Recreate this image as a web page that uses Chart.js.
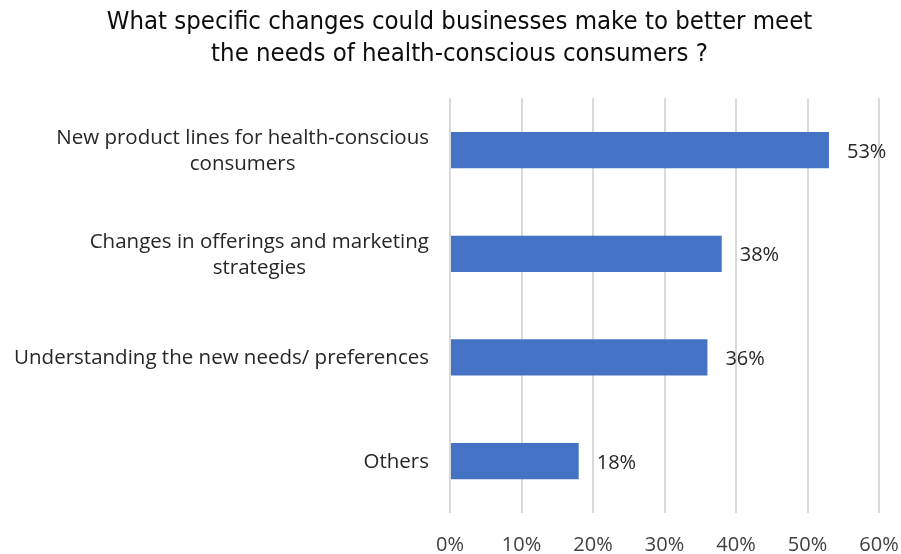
<!DOCTYPE html>
<html>
<head>
<meta charset="utf-8">
<title>Health-conscious consumers</title>
<script src="https://cdn.jsdelivr.net/npm/chart.js@4.4.1/dist/chart.umd.min.js"></script>
<style>
  html, body { margin: 0; padding: 0; background: #fff; }
  #wrap { width: 901px; height: 554px; }
</style>
</head>
<body>
<div id="wrap"><canvas id="changesChart"></canvas></div>
<script>
const categories = [
    ['New product lines for health-conscious', 'consumers'],
    ['Changes in offerings and marketing', 'strategies'],
    ['Understanding the new needs/ preferences'],
    ['Others']
];
const shares = [53, 38, 36, 18];
const tickValues = [0, 10, 20, 30, 40, 50, 60];

const labelFont = "'Open Sans', 'Noto Sans', sans-serif";

// category names: each block centred on itself, right edge just left of the bars
const categoryLabels = {
    id: 'categoryLabels',
    afterDraw(chart) {
        const ctx = chart.ctx;
        const yScale = chart.scales.y;
        const rightEdge = chart.chartArea.left - 21;
        const lineHeight = 26;
        ctx.save();
        ctx.font = '20.5px ' + labelFont;
        ctx.fillStyle = '#262626';
        ctx.textAlign = 'center';
        ctx.textBaseline = 'middle';
        categories.forEach(function(lines, i) {
            const widest = Math.max.apply(null, lines.map(l => ctx.measureText(l).width));
            const cx = rightEdge - widest / 2;
            const cy = yScale.getPixelForValue(i) + 1;
            const firstY = cy - (lines.length - 1) * lineHeight / 2;
            lines.forEach(function(line, j) {
                ctx.fillText(line, cx, firstY + j * lineHeight);
            });
        });
        ctx.restore();
    }
};

// writes "53%" etc. just past the end of each bar
const barValueLabels = {
    id: 'barValueLabels',
    afterDatasetsDraw(chart) {
        const ctx = chart.ctx;
        const meta = chart.getDatasetMeta(0);
        ctx.save();
        ctx.font = '20px ' + labelFont;
        ctx.fillStyle = '#262626';
        ctx.textAlign = 'left';
        ctx.textBaseline = 'middle';
        meta.data.forEach(function(bar, i) {
            ctx.fillText(shares[i] + '%', bar.x + 18, bar.y + 2);
        });
        ctx.restore();
    }
};

let ctx = document.getElementById('changesChart').getContext('2d');
let changesChart = new Chart(ctx, {
    type: 'bar',
    data: {
        labels: categories,
        datasets: [{
            data: shares,
            backgroundColor: '#4472C4',
            categoryPercentage: 1.0,
            barPercentage: 0.35
        }]
    },
    options: {
        indexAxis: 'y',
        responsive: true,
        maintainAspectRatio: false,
        animation: false,
        layout: { padding: { left: 40, right: 22, top: 0, bottom: 0 } },
        plugins: {
            legend: { display: false },
            tooltip: { enabled: false },
            title: {
                display: true,
                text: ['What specific changes could businesses make to better meet',
                       'the needs of health-conscious consumers ?'],
                color: '#0d0d0d',
                font: { family: "'Liberation Sans Narrow', 'DejaVu Sans Condensed', sans-serif", size: 25.5, weight: 'normal', lineHeight: 1.26 },
                padding: { top: 6, bottom: 28 }
            }
        },
        scales: {
            x: {
                min: 0,
                max: 60,
                afterBuildTicks: function(axis) {
                    axis.ticks = tickValues.map(v => ({ value: v }));
                },
                afterFit: function(axis) {
                    axis.height = 41;
                    axis.paddingLeft = 0;
                    axis.paddingRight = 0;
                },
                grid: { color: '#d9d9d9', lineWidth: 2, drawTicks: false },
                border: { display: false },
                ticks: {
                    padding: 20,
                    color: '#404040',
                    font: { family: labelFont, size: 20 },
                    callback: v => v + '%'
                }
            },
            y: {
                afterFit: function(axis) { axis.width = 410; },
                grid: { display: false },
                border: { display: false },
                ticks: { display: false }
            }
        }
    },
    plugins: [barValueLabels, categoryLabels]
});
</script>
</body>
</html>
